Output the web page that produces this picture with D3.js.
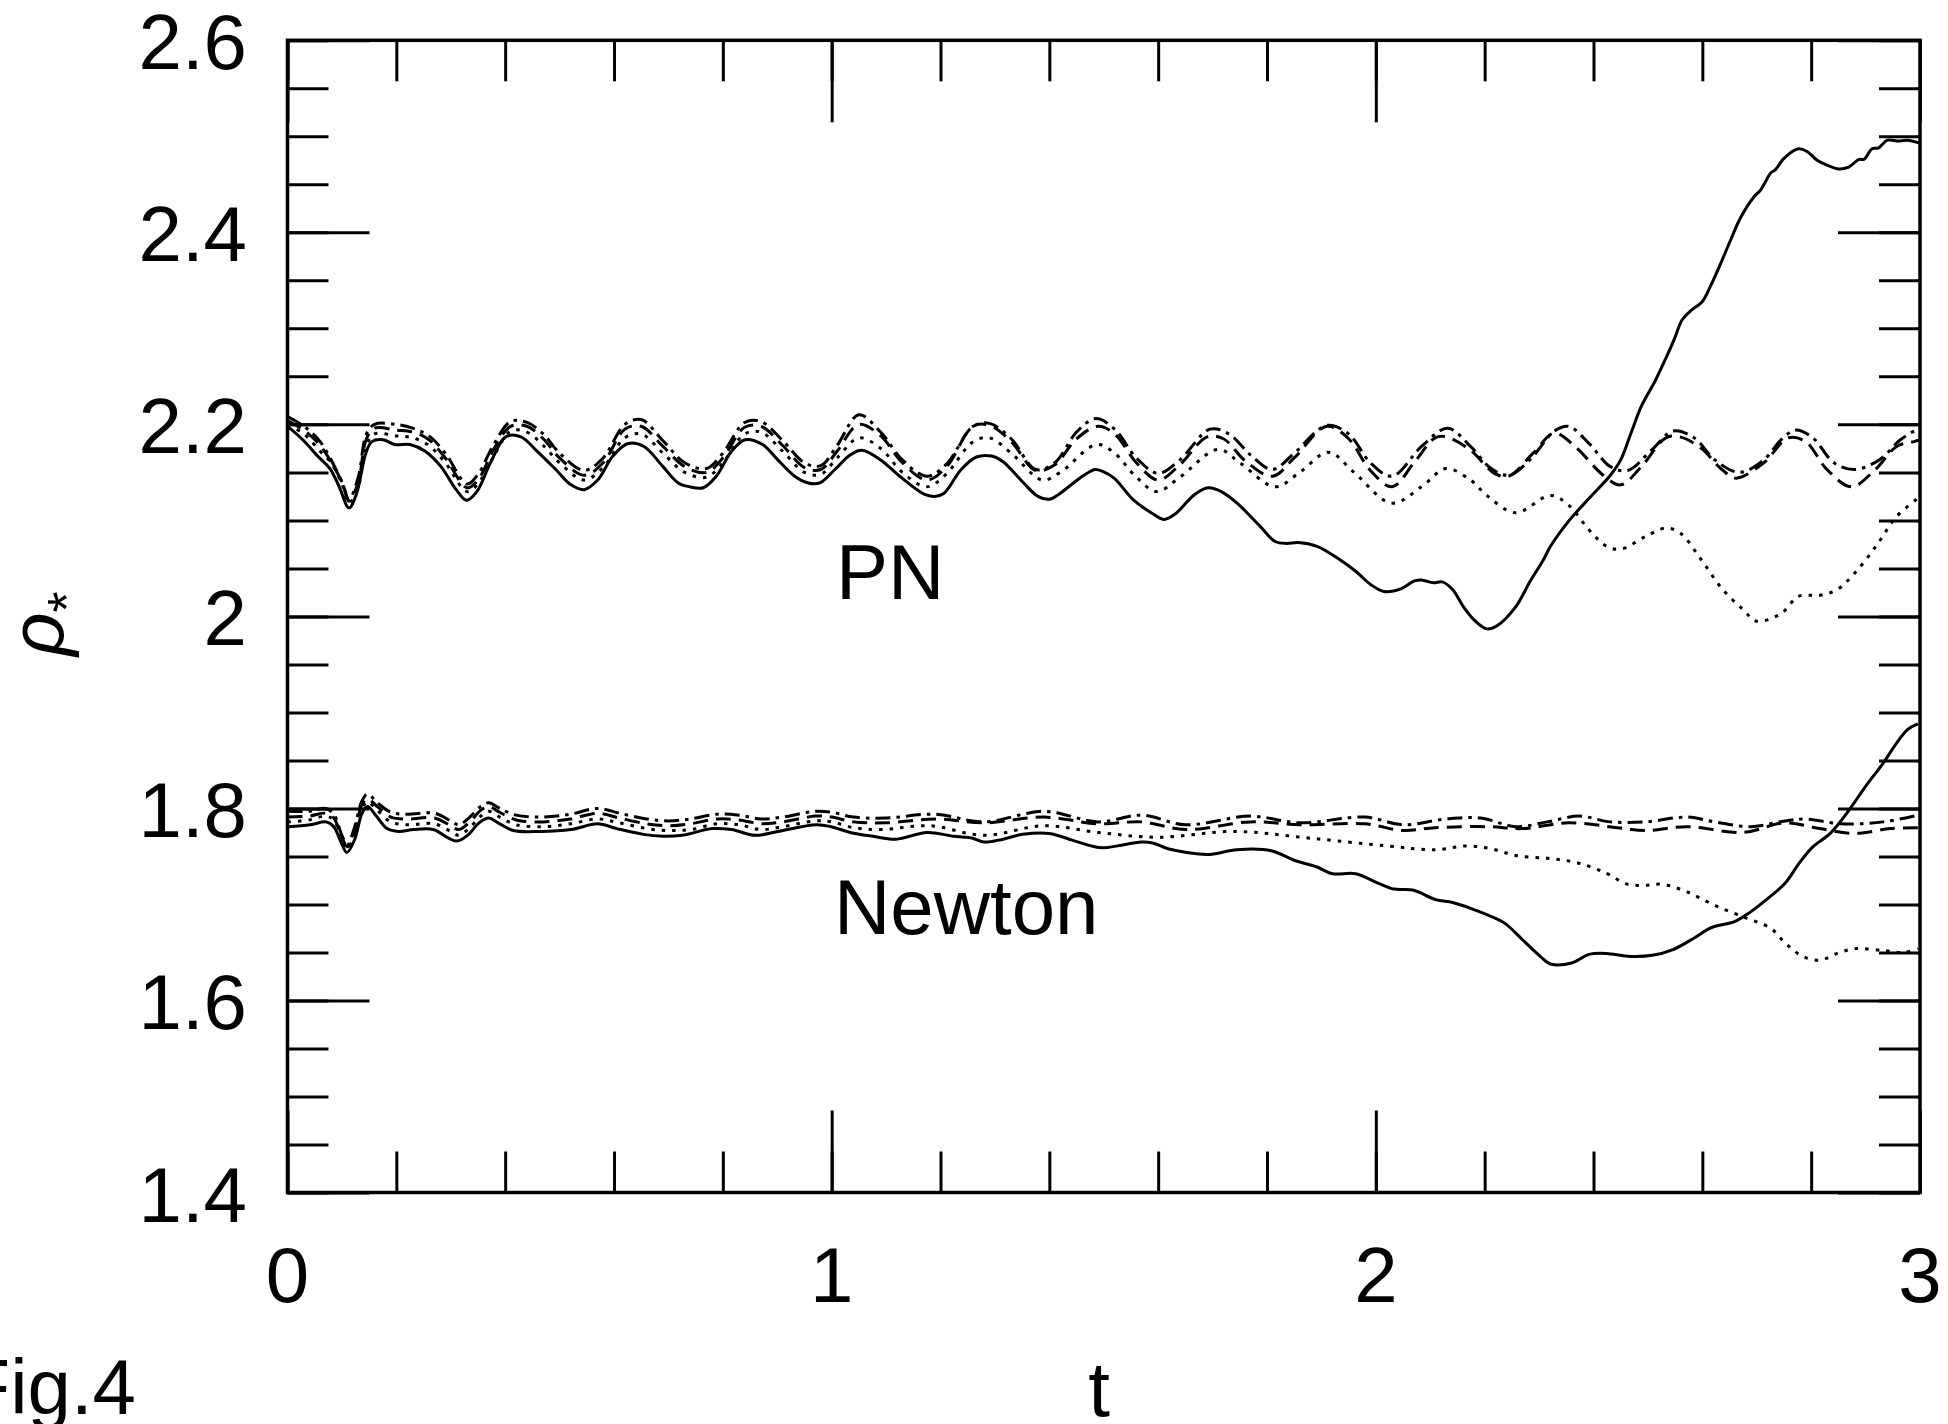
<!DOCTYPE html>
<html>
<head>
<meta charset="utf-8">
<script src="https://cdn.jsdelivr.net/npm/d3@7"></script>
<style>
  html, body { margin: 0; padding: 0; background: #fff; }
  svg { display: block; }
  text { font-family: "Liberation Sans", Arial, sans-serif; fill: #000; }
</style>
</head>
<body>
<svg id="chart" width="1948" height="1424"></svg>
<script>
// t ticks and rho ticks
const xMajorTicks = [0, 1, 2, 3];
const xTickLabels = ['0', '1', '2', '3'];
const yMajorTicks = [1.4, 1.6, 1.8, 2.0, 2.2, 2.4, 2.6];
const yTickLabels = ['1.4', '1.6', '1.8', '2', '2.2', '2.4', '2.6'];

// PN runs: [t, rho*]
const pnSolid = [[0,2.198],[0.028,2.184],[0.057,2.166],[0.078,2.154],[0.095,2.135],[0.113,2.113],[0.127,2.128],[0.144,2.170],[0.155,2.182],[0.176,2.184],[0.197,2.179],[0.225,2.179],[0.253,2.172],[0.282,2.156],[0.310,2.132],[0.329,2.121],[0.348,2.130],[0.373,2.160],[0.401,2.187],[0.429,2.187],[0.457,2.173],[0.493,2.153],[0.521,2.137],[0.545,2.132],[0.570,2.142],[0.598,2.167],[0.626,2.180],[0.655,2.177],[0.690,2.156],[0.718,2.139],[0.739,2.135],[0.764,2.134],[0.788,2.146],[0.816,2.172],[0.841,2.184],[0.873,2.179],[0.901,2.163],[0.932,2.146],[0.957,2.139],[0.978,2.139],[1.006,2.153],[1.034,2.168],[1.055,2.173],[1.090,2.163],[1.125,2.146],[1.171,2.127],[1.189,2.125],[1.206,2.128],[1.238,2.153],[1.266,2.166],[1.294,2.167],[1.315,2.161],[1.351,2.140],[1.379,2.125],[1.400,2.122],[1.417,2.127],[1.456,2.144],[1.484,2.153],[1.498,2.151],[1.519,2.144],[1.555,2.121],[1.590,2.107],[1.611,2.101],[1.632,2.107],[1.667,2.127],[1.692,2.134],[1.716,2.130],[1.745,2.118],[1.787,2.094],[1.815,2.078],[1.836,2.076],[1.857,2.077],[1.892,2.073],[1.934,2.059],[1.963,2.047],[1.991,2.033],[2.015,2.026],[2.047,2.029],[2.071,2.037],[2.084,2.038],[2.106,2.035],[2.122,2.036],[2.141,2.028],[2.161,2.010],[2.183,1.995],[2.204,1.987],[2.222,1.990],[2.257,2.010],[2.283,2.036],[2.308,2.059],[2.321,2.073],[2.354,2.099],[2.392,2.123],[2.431,2.147],[2.450,2.163],[2.469,2.191],[2.488,2.219],[2.514,2.246],[2.529,2.264],[2.548,2.288],[2.563,2.309],[2.578,2.318],[2.600,2.328],[2.615,2.344],[2.634,2.368],[2.652,2.392],[2.670,2.415],[2.695,2.437],[2.707,2.444],[2.726,2.462],[2.734,2.465],[2.750,2.477],[2.777,2.487],[2.793,2.484],[2.811,2.475],[2.829,2.470],[2.851,2.466],[2.869,2.468],[2.888,2.476],[2.897,2.476],[2.912,2.487],[2.924,2.488],[2.940,2.496],[2.961,2.495],[2.976,2.496],[3.0,2.493]];
const pnDotted = [[0,2.200],[0.03,2.190],[0.06,2.172],[0.08,2.160],[0.1,2.138],[0.113,2.118],[0.13,2.135],[0.145,2.178],[0.16,2.190],[0.2,2.188],[0.23,2.186],[0.26,2.178],[0.29,2.160],[0.33,2.130],[0.35,2.138],[0.38,2.168],[0.41,2.193],[0.44,2.192],[0.47,2.178],[0.5,2.160],[0.545,2.142],[0.58,2.155],[0.62,2.186],[0.65,2.190],[0.69,2.170],[0.73,2.150],[0.77,2.145],[0.8,2.160],[0.84,2.190],[0.87,2.192],[0.91,2.172],[0.95,2.150],[0.98,2.148],[1.01,2.165],[1.05,2.186],[1.09,2.175],[1.13,2.150],[1.175,2.135],[1.21,2.148],[1.26,2.182],[1.29,2.186],[1.33,2.170],[1.387,2.142],[1.42,2.150],[1.487,2.179],[1.52,2.170],[1.56,2.145],[1.597,2.130],[1.64,2.145],[1.71,2.174],[1.75,2.160],[1.815,2.135],[1.86,2.150],[1.913,2.171],[1.96,2.150],[2.029,2.118],[2.084,2.135],[2.129,2.154],[2.174,2.142],[2.206,2.125],[2.257,2.108],[2.321,2.126],[2.354,2.116],[2.392,2.090],[2.424,2.073],[2.450,2.070],[2.495,2.083],[2.533,2.092],[2.559,2.087],[2.598,2.059],[2.636,2.029],[2.675,2.007],[2.700,1.995],[2.745,2.003],[2.777,2.021],[2.816,2.022],[2.848,2.028],[2.880,2.045],[2.919,2.073],[2.957,2.104],[2.996,2.123]];
const pnDashed = [[0,2.204],[0.03,2.194],[0.06,2.178],[0.1,2.140],[0.113,2.120],[0.13,2.140],[0.145,2.185],[0.16,2.196],[0.2,2.194],[0.23,2.192],[0.26,2.184],[0.29,2.165],[0.33,2.134],[0.35,2.142],[0.38,2.175],[0.41,2.198],[0.44,2.198],[0.47,2.185],[0.5,2.165],[0.545,2.147],[0.58,2.160],[0.62,2.195],[0.65,2.198],[0.69,2.177],[0.73,2.156],[0.77,2.150],[0.8,2.165],[0.84,2.197],[0.87,2.198],[0.91,2.178],[0.95,2.155],[0.98,2.153],[1.01,2.172],[1.05,2.200],[1.09,2.188],[1.13,2.160],[1.175,2.142],[1.21,2.155],[1.26,2.198],[1.29,2.199],[1.33,2.182],[1.375,2.152],[1.41,2.158],[1.45,2.185],[1.49,2.198],[1.52,2.190],[1.56,2.160],[1.6,2.142],[1.64,2.158],[1.69,2.187],[1.72,2.185],[1.76,2.162],[1.81,2.146],[1.85,2.165],[1.91,2.198],[1.95,2.185],[1.99,2.152],[2.03,2.135],[2.07,2.160],[2.109,2.186],[2.129,2.187],[2.174,2.173],[2.218,2.149],[2.244,2.146],[2.289,2.170],[2.328,2.191],[2.366,2.177],[2.418,2.147],[2.450,2.137],[2.488,2.156],[2.533,2.186],[2.559,2.187],[2.598,2.175],[2.636,2.153],[2.662,2.144],[2.713,2.160],[2.758,2.186],[2.790,2.182],[2.829,2.153],[2.874,2.135],[2.918,2.153],[2.957,2.177],[2.989,2.182],[3.0,2.184]];
const pnDashDot = [[0,2.208],[0.03,2.198],[0.06,2.182],[0.1,2.140],[0.113,2.122],[0.13,2.145],[0.145,2.190],[0.16,2.200],[0.2,2.200],[0.23,2.196],[0.26,2.188],[0.29,2.170],[0.33,2.138],[0.35,2.148],[0.38,2.180],[0.41,2.203],[0.44,2.202],[0.47,2.190],[0.5,2.170],[0.545,2.152],[0.58,2.165],[0.62,2.200],[0.65,2.205],[0.69,2.183],[0.73,2.160],[0.77,2.154],[0.8,2.170],[0.84,2.202],[0.87,2.203],[0.91,2.183],[0.95,2.160],[0.98,2.157],[1.01,2.178],[1.05,2.210],[1.09,2.192],[1.13,2.163],[1.175,2.146],[1.21,2.158],[1.26,2.198],[1.29,2.201],[1.33,2.185],[1.375,2.153],[1.41,2.160],[1.45,2.192],[1.485,2.206],[1.52,2.195],[1.56,2.165],[1.6,2.149],[1.64,2.163],[1.695,2.195],[1.73,2.190],[1.77,2.168],[1.81,2.153],[1.85,2.170],[1.91,2.199],[1.95,2.190],[1.99,2.160],[2.03,2.146],[2.084,2.177],[2.132,2.196],[2.174,2.177],[2.212,2.154],[2.244,2.147],[2.283,2.163],[2.328,2.193],[2.354,2.198],[2.392,2.180],[2.431,2.156],[2.463,2.152],[2.508,2.174],[2.546,2.193],[2.585,2.186],[2.623,2.163],[2.668,2.150],[2.713,2.163],[2.745,2.184],[2.771,2.194],[2.803,2.186],[2.842,2.160],[2.880,2.153],[2.925,2.163],[2.964,2.184],[2.993,2.194],[3.0,2.195]];

// Newton runs: [t, rho*]
const nwSolid = [[0,1.781],[0.042,1.783],[0.071,1.786],[0.085,1.781],[0.099,1.764],[0.109,1.754],[0.123,1.767],[0.137,1.795],[0.147,1.802],[0.162,1.793],[0.183,1.779],[0.204,1.776],[0.232,1.778],[0.268,1.778],[0.296,1.769],[0.311,1.766],[0.331,1.772],[0.352,1.785],[0.370,1.790],[0.387,1.785],[0.415,1.777],[0.465,1.776],[0.521,1.778],[0.570,1.784],[0.605,1.779],[0.654,1.773],[0.690,1.771],[0.725,1.772],[0.781,1.779],[0.816,1.778],[0.859,1.772],[0.901,1.776],[0.971,1.783],[0.999,1.781],[1.034,1.775],[1.076,1.771],[1.118,1.768],[1.175,1.775],[1.224,1.771],[1.259,1.769],[1.280,1.765],[1.315,1.768],[1.351,1.773],[1.400,1.774],[1.442,1.767],[1.477,1.761],[1.498,1.759],[1.526,1.761],[1.569,1.765],[1.590,1.764],[1.618,1.758],[1.667,1.753],[1.695,1.752],[1.745,1.757],[1.808,1.756],[1.850,1.746],[1.892,1.739],[1.920,1.732],[1.963,1.732],[2.005,1.722],[2.033,1.716],[2.068,1.715],[2.110,1.705],[2.141,1.702],[2.174,1.696],[2.218,1.686],[2.238,1.680],[2.270,1.663],[2.302,1.646],[2.321,1.638],[2.360,1.639],[2.392,1.648],[2.424,1.649],[2.463,1.646],[2.508,1.647],[2.546,1.653],[2.585,1.665],[2.617,1.676],[2.659,1.682],[2.688,1.692],[2.720,1.706],[2.752,1.722],[2.778,1.743],[2.803,1.760],[2.835,1.774],[2.868,1.797],[2.900,1.823],[2.932,1.847],[2.957,1.868],[2.977,1.882],[2.996,1.888]];
const nwDotted = [[0,1.786],[0.04,1.788],[0.07,1.792],[0.085,1.788],[0.1,1.768],[0.11,1.758],[0.123,1.772],[0.137,1.800],[0.147,1.807],[0.165,1.798],[0.19,1.786],[0.22,1.783],[0.27,1.784],[0.3,1.776],[0.315,1.772],[0.335,1.780],[0.355,1.792],[0.37,1.797],[0.39,1.791],[0.42,1.783],[0.47,1.781],[0.52,1.784],[0.57,1.789],[0.61,1.785],[0.66,1.779],[0.7,1.777],[0.74,1.778],[0.79,1.784],[0.83,1.783],[0.87,1.778],[0.91,1.781],[0.97,1.787],[1.0,1.786],[1.04,1.780],[1.09,1.778],[1.18,1.782],[1.28,1.772],[1.39,1.782],[1.49,1.775],[1.6,1.770],[1.74,1.776],[1.88,1.769],[2.02,1.761],[2.109,1.757],[2.167,1.761],[2.212,1.758],[2.257,1.751],[2.315,1.748],[2.366,1.744],[2.418,1.734],[2.463,1.721],[2.495,1.720],[2.527,1.721],[2.572,1.713],[2.623,1.699],[2.675,1.687],[2.726,1.675],[2.752,1.660],[2.784,1.646],[2.816,1.642],[2.848,1.649],[2.880,1.654],[2.932,1.652],[2.970,1.650],[2.996,1.654]];
const nwDashed = [[0,1.791],[0.04,1.792],[0.07,1.795],[0.085,1.790],[0.1,1.770],[0.11,1.760],[0.123,1.776],[0.137,1.804],[0.147,1.810],[0.165,1.802],[0.19,1.791],[0.22,1.789],[0.27,1.790],[0.3,1.782],[0.315,1.778],[0.335,1.786],[0.355,1.798],[0.37,1.802],[0.39,1.796],[0.42,1.788],[0.47,1.786],[0.52,1.789],[0.57,1.795],[0.61,1.790],[0.66,1.784],[0.7,1.782],[0.74,1.784],[0.79,1.789],[0.83,1.788],[0.87,1.784],[0.91,1.786],[0.97,1.792],[1.0,1.791],[1.04,1.786],[1.1,1.785],[1.19,1.789],[1.28,1.785],[1.39,1.791],[1.49,1.784],[1.57,1.786],[1.65,1.778],[1.77,1.786],[1.86,1.783],[1.98,1.784],[2.05,1.777],[2.109,1.780],[2.206,1.781],[2.270,1.779],[2.354,1.785],[2.444,1.780],[2.495,1.777],[2.572,1.781],[2.675,1.775],[2.752,1.785],[2.816,1.779],[2.880,1.774],[2.945,1.779],[2.996,1.780]];
const nwDashDot = [[0,1.797],[0.04,1.797],[0.07,1.800],[0.085,1.794],[0.1,1.772],[0.11,1.762],[0.123,1.780],[0.137,1.808],[0.147,1.815],[0.165,1.806],[0.19,1.796],[0.22,1.794],[0.27,1.795],[0.3,1.787],[0.315,1.783],[0.335,1.791],[0.355,1.802],[0.37,1.806],[0.39,1.800],[0.42,1.793],[0.47,1.791],[0.52,1.794],[0.57,1.800],[0.61,1.795],[0.66,1.789],[0.7,1.787],[0.74,1.789],[0.79,1.794],[0.83,1.793],[0.87,1.789],[0.91,1.791],[0.97,1.797],[1.0,1.796],[1.04,1.791],[1.1,1.790],[1.19,1.794],[1.28,1.786],[1.39,1.797],[1.49,1.786],[1.57,1.793],[1.65,1.783],[1.77,1.792],[1.86,1.785],[1.98,1.791],[2.05,1.783],[2.128,1.789],[2.193,1.790],[2.257,1.781],[2.315,1.786],[2.373,1.792],[2.431,1.786],[2.495,1.786],[2.572,1.791],[2.623,1.786],[2.688,1.781],[2.752,1.787],[2.790,1.789],[2.855,1.784],[2.932,1.786],[2.996,1.793]];

const series = [
    {data: pnSolid, dash: null},
    {data: pnDotted, dash: '3.5,7'},
    {data: pnDashed, dash: '15,8'},
    {data: pnDashDot, dash: '15,6,3.5,6'},
    {data: nwSolid, dash: null},
    {data: nwDotted, dash: '3.5,7'},
    {data: nwDashed, dash: '15,8'},
    {data: nwDashDot, dash: '15,6,3.5,6'}
];

const svg = d3.select('#chart');
const plotLeft = 287.5, plotRight = 1920, plotTop = 40.3, plotBottom = 1192.5;

const x = d3.scaleLinear().domain([0, 3]).range([plotLeft, plotRight]);
const y = d3.scaleLinear().domain([1.4, 2.6]).range([plotBottom, plotTop]);

svg.append('rect').attr('width', 1948).attr('height', 1424).attr('fill', '#fff');

svg.append('clipPath').attr('id', 'plot-clip')
    .append('rect')
    .attr('x', plotLeft).attr('y', plotTop)
    .attr('width', plotRight - plotLeft).attr('height', plotBottom - plotTop);

// inward ticks on all four sides
const xMinor = d3.range(0, 3.001, 0.2);
const yMinor = d3.range(1.4, 2.601, 0.05);

function tickAxis(axis, transform) {
    let g = svg.append('g')
        .attr('transform', transform)
        .call(axis.tickFormat(''));
    g.select('.domain').remove();
    g.selectAll('line').attr('stroke', '#000').attr('stroke-width', 3);
}

tickAxis(d3.axisBottom(x).tickValues(xMinor).tickSize(-41), `translate(0,${plotBottom})`);
tickAxis(d3.axisBottom(x).tickValues(xMajorTicks).tickSize(-82), `translate(0,${plotBottom})`);
tickAxis(d3.axisTop(x).tickValues(xMinor).tickSize(-41), `translate(0,${plotTop})`);
tickAxis(d3.axisTop(x).tickValues(xMajorTicks).tickSize(-82), `translate(0,${plotTop})`);
tickAxis(d3.axisLeft(y).tickValues(yMinor).tickSize(-41), `translate(${plotLeft},0)`);
tickAxis(d3.axisLeft(y).tickValues(yMajorTicks).tickSize(-82), `translate(${plotLeft},0)`);
tickAxis(d3.axisRight(y).tickValues(yMinor).tickSize(-41), `translate(${plotRight},0)`);
tickAxis(d3.axisRight(y).tickValues(yMajorTicks).tickSize(-82), `translate(${plotRight},0)`);

svg.append('rect')
    .attr('x', plotLeft).attr('y', plotTop)
    .attr('width', plotRight - plotLeft).attr('height', plotBottom - plotTop)
    .attr('fill', 'none')
    .attr('stroke', '#000')
    .attr('stroke-width', 3.5);

// tick labels
svg.append('g').selectAll('text')
    .data(xMajorTicks)
    .join('text')
    .attr('x', d => x(d))
    .attr('y', 1302)
    .attr('text-anchor', 'middle')
    .attr('font-size', 78)
    .text((d, i) => xTickLabels[i]);

svg.append('g').selectAll('text')
    .data(yMajorTicks)
    .join('text')
    .attr('x', 247)
    .attr('y', d => y(d) + 29)
    .attr('text-anchor', 'end')
    .attr('font-size', 78)
    .text((d, i) => yTickLabels[i]);

// curves
let line = d3.line()
    .x(d => x(d[0]))
    .y(d => y(d[1]))
    .curve(d3.curveCatmullRom.alpha(0.5));

svg.append('g')
    .attr('clip-path', 'url(#plot-clip)')
    .selectAll('path')
    .data(series)
    .join('path')
    .attr('d', d => line(d.data))
    .attr('fill', 'none')
    .attr('stroke', '#000')
    .attr('stroke-width', 3)
    .attr('stroke-dasharray', d => d.dash);

// annotations
svg.append('text').attr('x', 836).attr('y', 599).attr('font-size', 78).text('PN');
svg.append('text').attr('x', 834).attr('y', 934).attr('font-size', 78).text('Newton');

svg.append('text').attr('x', 1099).attr('y', 1416).attr('text-anchor', 'middle')
    .attr('font-size', 78).text('t');
svg.append('text').attr('x', 136).attr('y', 1414).attr('text-anchor', 'end')
    .attr('font-size', 78).text('Fig.4');

let ylab = svg.append('text')
    .attr('transform', 'translate(63,656) rotate(-90)')
    .attr('font-size', 76);
ylab.append('tspan').attr('font-style', 'italic').text('ρ');
ylab.append('tspan').attr('font-size', 54).attr('dy', 22).text('*');
</script>
</body>
</html>
